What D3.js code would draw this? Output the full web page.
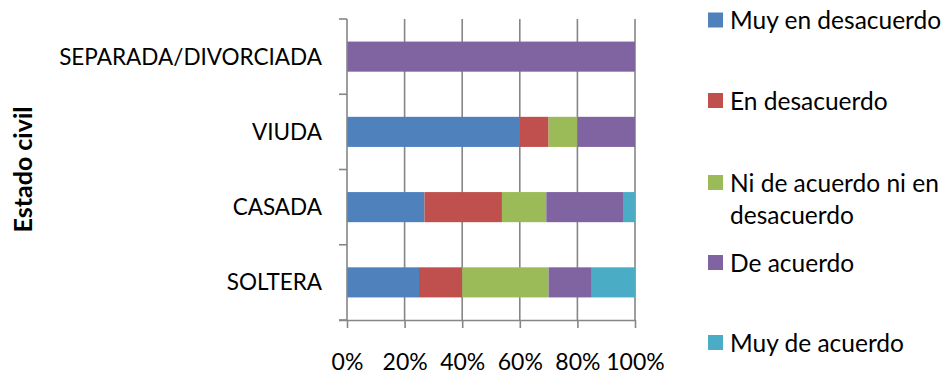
<!DOCTYPE html>
<html>
<head>
<meta charset="utf-8">
<script src="https://cdn.jsdelivr.net/npm/d3@7"></script>
<style>
  html, body { margin: 0; padding: 0; background: #fff; }
  svg { display: block; font-family: Lato, "Open Sans", sans-serif; }
</style>
</head>
<body>
<svg id="chart" width="945" height="374"></svg>
<script>
// Estado civil categories, bottom to top
const categories = ["SOLTERA", "CASADA", "VIUDA", "SEPARADA/DIVORCIADA"];

// Response levels (legend order)
const seriesNames = ["Muy en desacuerdo", "En desacuerdo", "Ni de acuerdo ni en desacuerdo", "De acuerdo", "Muy de acuerdo"];
const seriesColors = ["#4F81BD", "#C0504D", "#9BBB59", "#8064A2", "#4BACC6"];

// Share of answers (%) per category, one array per response level
const muyEnDesacuerdo = [25, 26.9, 60, 0];
const enDesacuerdo    = [15, 26.9, 10, 0];
const niNi            = [30, 15.4, 10, 0];
const deAcuerdo       = [15, 26.9, 20, 100];
const muyDeAcuerdo    = [15, 3.9, 0, 0];

const xTicks = [0, 20, 40, 60, 80, 100];
const xTickLabels = ["0%", "20%", "40%", "60%", "80%", "100%"];

const seriesValues = [muyEnDesacuerdo, enDesacuerdo, niNi, deAcuerdo, muyDeAcuerdo];
const rows = categories.map((c, i) => {
  const r = { cat: c };
  seriesNames.forEach((s, j) => r[s] = seriesValues[j][i]);
  return r;
});

const svg = d3.select("#chart");
const plot = { left: 347, right: 635, top: 19, bottom: 320 };
const gridColor = "#868686";

const x = d3.scaleLinear().domain([0, 100]).range([plot.left, plot.right]);
const y = d3.scaleBand().domain(categories).range([plot.bottom, plot.top])
  .paddingInner(0.6).paddingOuter(0.3);

// vertical gridlines
svg.append("g").selectAll("line").data(xTicks.slice(1)).join("line")
  .attr("x1", d => x(d)).attr("x2", d => x(d))
  .attr("y1", plot.top).attr("y2", plot.bottom)
  .attr("stroke", gridColor).attr("stroke-width", 1.6);

// stacked bars
const stacked = d3.stack().keys(seriesNames)(rows);
svg.append("g").selectAll("g").data(stacked).join("g")
  .attr("fill", (d, i) => seriesColors[i])
  .selectAll("rect").data(d => d).join("rect")
  .attr("x", d => x(d[0]))
  .attr("width", d => x(d[1]) - x(d[0]))
  .attr("y", d => y(d.data.cat))
  .attr("height", y.bandwidth());

// x axis
const xAxis = svg.append("g").attr("transform", `translate(0,${plot.bottom})`)
  .call(d3.axisBottom(x).tickValues(xTicks).tickSize(8).tickSizeOuter(0)
    .tickFormat((d, i) => xTickLabels[i]));
xAxis.select(".domain").attr("stroke", gridColor).attr("stroke-width", 1.6)
  .attr("d", `M${plot.left - 8},0.5H${plot.right}`);
xAxis.selectAll(".tick line").attr("stroke", gridColor).attr("stroke-width", 1.6);
xAxis.selectAll(".tick text").attr("fill", "#000").attr("font-size", 23)
  .attr("font-family", "Lato, sans-serif").attr("y", 50).attr("dy", null);

// y axis line with ticks at category boundaries
const step = y.step();
const bounds = d3.range(categories.length + 1).map(i => plot.bottom - i * step);
svg.append("line").attr("x1", plot.left).attr("x2", plot.left)
  .attr("y1", plot.top).attr("y2", plot.bottom)
  .attr("stroke", gridColor).attr("stroke-width", 1.6);
svg.append("g").selectAll("line").data(bounds).join("line")
  .attr("x1", plot.left - 8).attr("x2", plot.left)
  .attr("y1", d => d).attr("y2", d => d)
  .attr("stroke", gridColor).attr("stroke-width", 1.6);

// category labels
svg.append("g").selectAll("text").data(categories).join("text")
  .attr("x", 322).attr("y", d => y(d) + y.bandwidth() / 2)
  .attr("dy", "0.35em").attr("text-anchor", "end")
  .attr("font-size", 22.5).attr("fill", "#000").text(d => d);

// axis title
svg.append("text")
  .attr("transform", `translate(32,${(plot.top + plot.bottom) / 2}) rotate(-90)`)
  .attr("text-anchor", "middle").attr("font-size", 25).attr("font-weight", "bold")
  .attr("fill", "#000").text("Estado civil");

// legend
const legendLines = [["Muy en desacuerdo"], ["En desacuerdo"], ["Ni de acuerdo ni en", "desacuerdo"], ["De acuerdo"], ["Muy de acuerdo"]];
const legendY = [20.5, 101, 183, 263, 343];
const lg = svg.append("g").selectAll("g").data(seriesNames).join("g")
  .attr("transform", (d, i) => `translate(708,${legendY[i]})`);
lg.append("rect").attr("x", 0).attr("y", -8).attr("width", 15).attr("height", 15)
  .attr("fill", (d, i) => seriesColors[i]);
lg.append("text").attr("x", 22).attr("font-size", 24.5).attr("fill", "#000")
  .selectAll("tspan").data((d, i) => legendLines[i]).join("tspan")
  .attr("x", 22).attr("dy", (d, i) => i === 0 ? "0.35em" : 32).text(d => d);
</script>
</body>
</html>
